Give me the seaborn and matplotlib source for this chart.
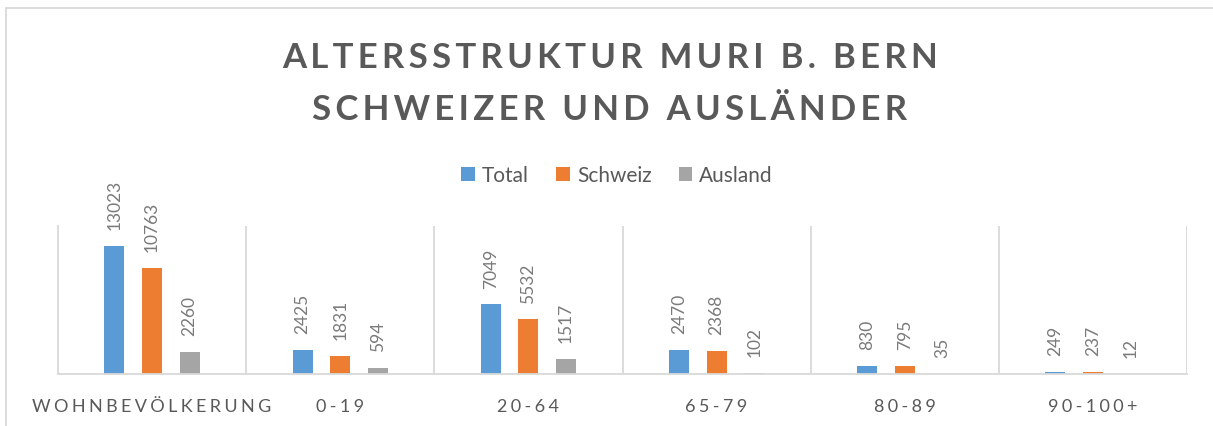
import matplotlib
matplotlib.use("Agg")
import matplotlib.pyplot as plt
import seaborn as sns
import pandas as pd
from matplotlib.lines import Line2D
from matplotlib.patches import Patch

categories = ["WOHNBEVÖLKERUNG", "0-19", "20-64", "65-79", "80-89", "90-100+"]
series = ["Total", "Schweiz", "Ausland"]
total = [13023, 2425, 7049, 2470, 830, 249]
schweiz = [10763, 1831, 5532, 2368, 795, 237]
ausland = [2260, 594, 1517, 102, 35, 12]
colors = ["#5B9BD5", "#ED7D31", "#A5A5A5"]
title_lines = ["ALTERSSTRUKTUR MURI B. BERN", "SCHWEIZER UND AUSLÄNDER"]

rows = []
for s, vals in zip(series, [total, schweiz, ausland]):
    for c, v in zip(categories, vals):
        rows.append({"Kategorie": c, "Serie": s, "Wert": v})
df = pd.DataFrame(rows)

sns.set_theme(style="white")
plt.rcParams["font.family"] = ["Lato", "DejaVu Sans"]

W, H = 1213, 427
fig = plt.figure(figsize=(W / 100, H / 100), dpi=100)
ax = fig.add_axes([58 / W, 1 - 375 / H, (1187 - 58) / W, (375 - 227) / H])

sns.barplot(data=df, x="Kategorie", y="Wert", hue="Serie", order=categories,
            hue_order=series, palette=colors, width=0.6, gap=0.47,
            ax=ax, legend=False, linewidth=0, saturation=1)

text_col = "#595959"
label_col = "#7A7A7A"
grid_col = "#D9D9D9"
for cont in ax.containers:
    ax.bar_label(cont, rotation=90, padding=12, color=label_col, fontsize=12.5)

ax.set_ylim(0, 15000)
ax.set_xlim(-0.5, len(categories) - 0.5)
for i in range(len(categories)):
    ax.axvline(i + 0.5, color=grid_col, lw=1.3, zorder=0)
ax.set_yticks([])
ax.set_xlabel("")
ax.set_ylabel("")
for sp in ["top", "right"]:
    ax.spines[sp].set_visible(False)
for sp in ["left", "bottom"]:
    ax.spines[sp].set_color(grid_col)
    ax.spines[sp].set_linewidth(1.3)

spaced = ["\u2009\u200a".join(list(c)) for c in categories]
ax.set_xticks(range(len(categories)))
ax.set_xticklabels(spaced, fontsize=13, color=text_col)
ax.tick_params(axis="x", length=0, pad=17)

for k, line in enumerate(title_lines):
    fig.text(610 / W, 1 - (58 + 52 * k) / H, "\u200a\u200a".join(list(line)),
             ha="center", va="center", fontsize=25, fontweight="bold", color=text_col)

handles = [Patch(facecolor=c, edgecolor="none") for c in colors]
fig.legend(handles, series, loc="center", bbox_to_anchor=(617 / W, 1 - 176 / H),
           ncol=3, frameon=False, fontsize=15, handlelength=0.65, handleheight=0.65,
           handletextpad=0.35, columnspacing=1.3, labelcolor=text_col)

fig.add_artist(Line2D([6 / W, 6 / W], [0, 1 - 9 / H], transform=fig.transFigure,
                      color=grid_col, lw=1.3))
fig.add_artist(Line2D([6 / W, 1], [1 - 9 / H, 1 - 9 / H], transform=fig.transFigure,
                      color=grid_col, lw=1.3))

fig.savefig("out.png", dpi=100)
